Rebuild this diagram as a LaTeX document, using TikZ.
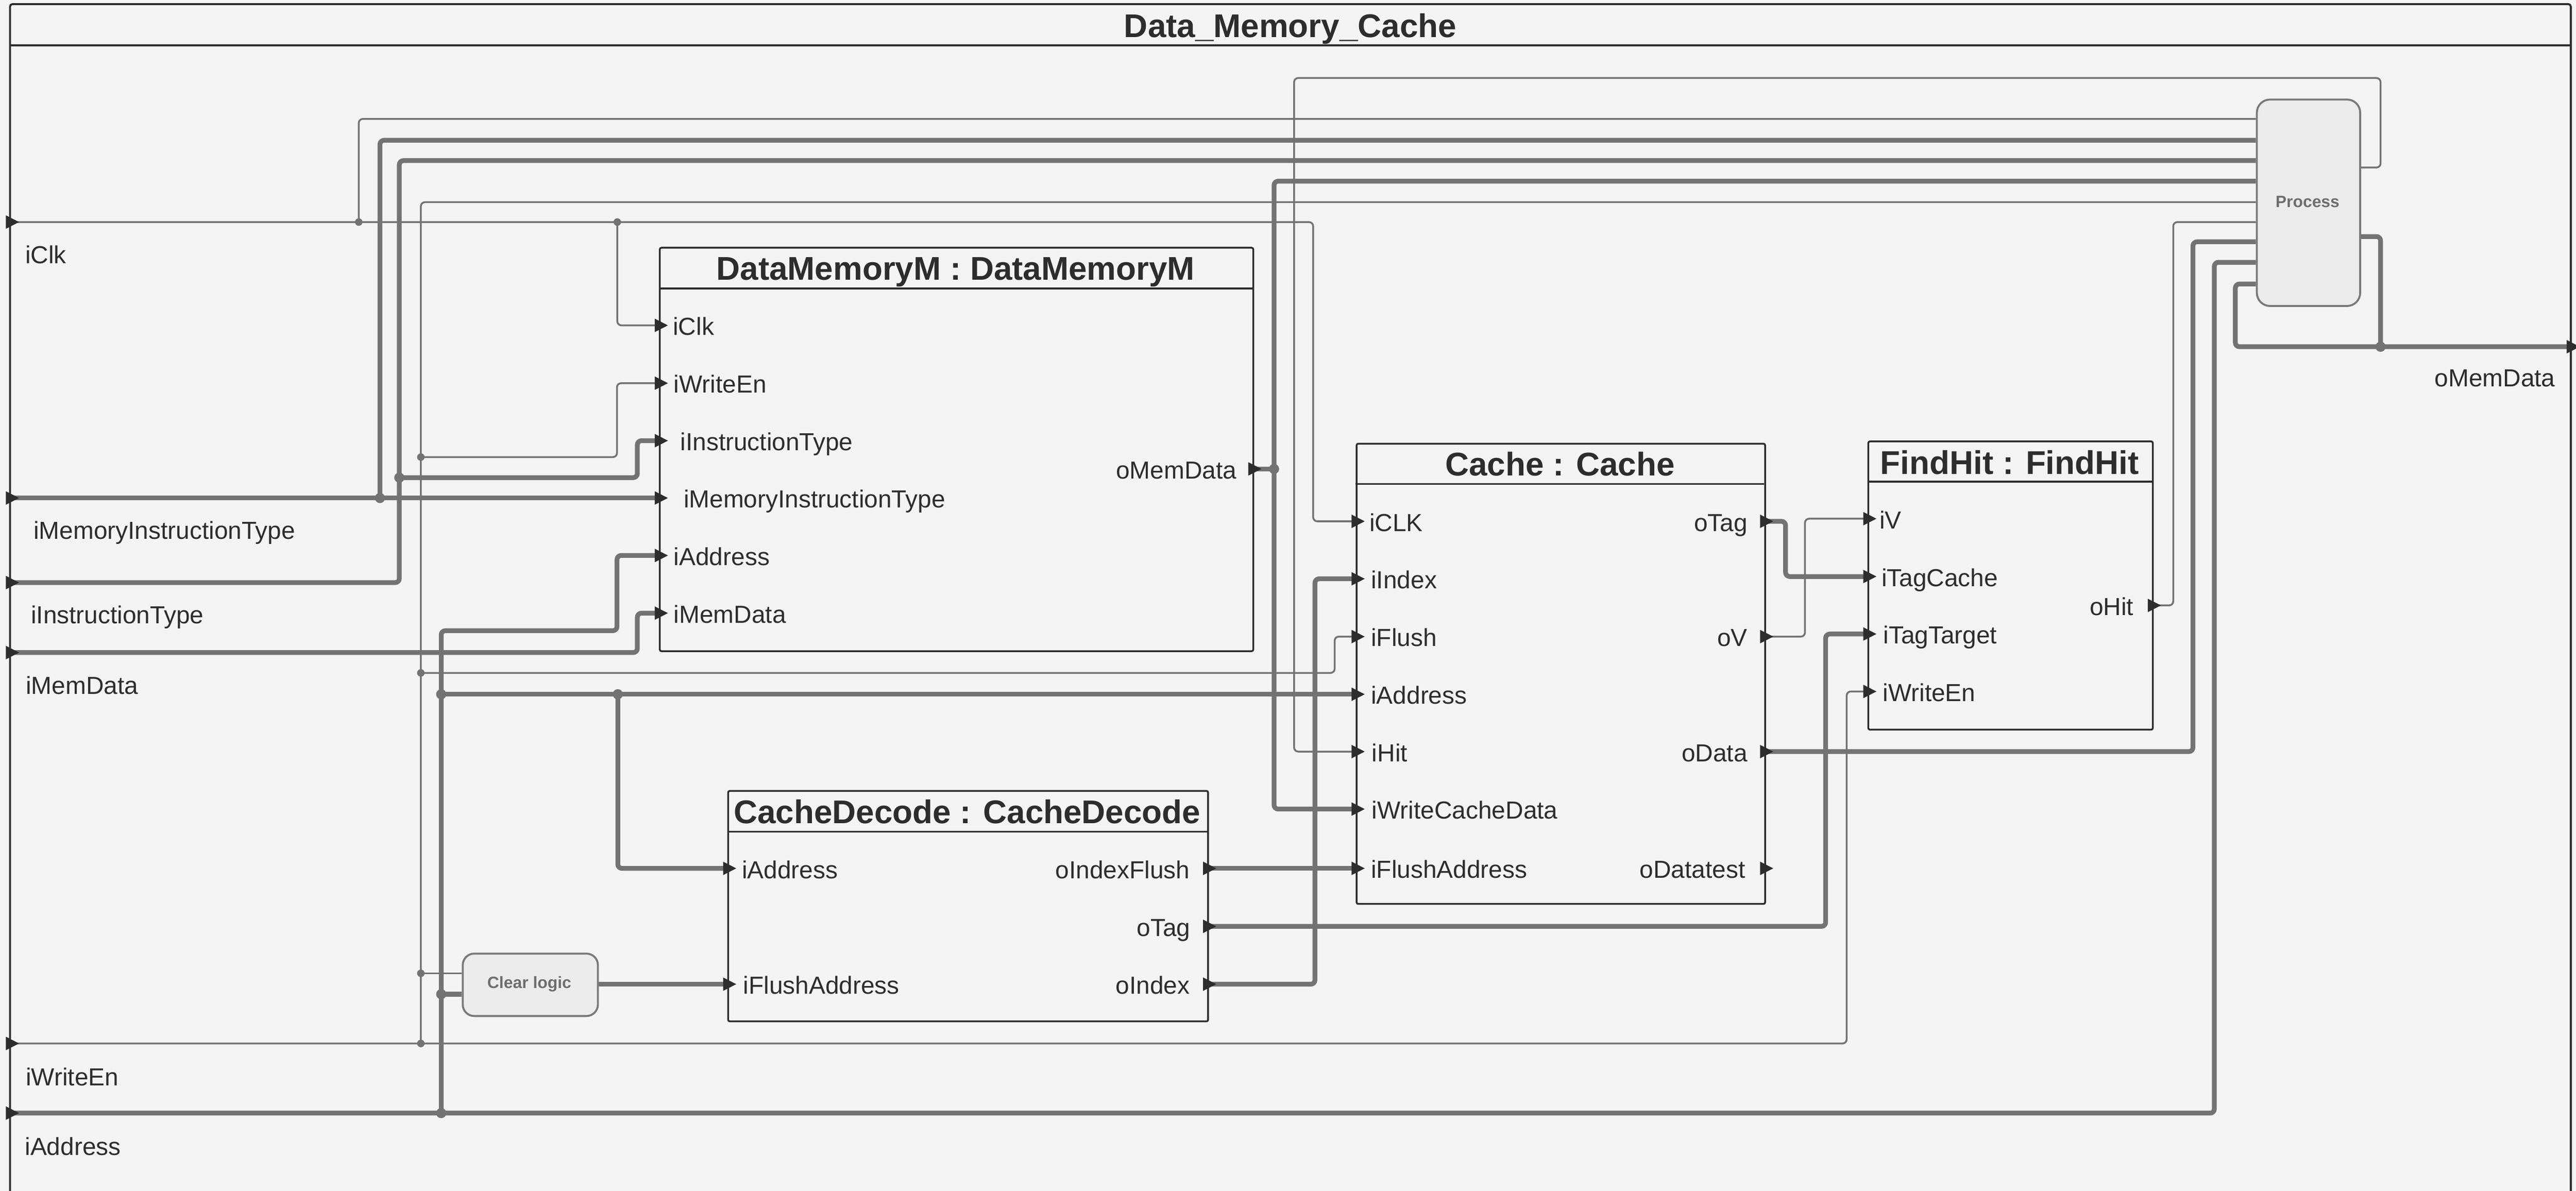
\documentclass[tikz,border=0pt]{standalone}
\usepackage{fontspec}
\setmainfont{Liberation Sans}
\definecolor{bgc}{HTML}{F4F4F4}
\definecolor{darkc}{HTML}{2D2D2D}
\definecolor{wirec}{HTML}{737373}
\definecolor{procfill}{HTML}{ECECEC}
\definecolor{procline}{HTML}{7A7A7A}
\definecolor{proctext}{HTML}{6E6E6E}
\tikzset{
  thinw/.style={draw=wirec, line width=1.1pt, rounded corners=2.5pt},
  thickw/.style={draw=wirec, line width=2.9pt, rounded corners=2.5pt},
  block/.style={rectangle, draw=darkc, line width=1.1pt, fill=bgc, rounded corners=1pt, inner sep=0pt, anchor=north west},
  procbox/.style={rectangle, draw=procline, line width=1.2pt, fill=procfill, inner sep=0pt, anchor=north west},
  proclabel/.style={font=\fontsize{10}{12}\selectfont\bfseries, text=proctext, inner sep=0pt},
  btitle/.style={font=\fontsize{20}{24}\selectfont\bfseries, text=darkc, anchor=base, inner sep=0pt},
  plabel/.style={font=\fontsize{15}{18}\selectfont, text=darkc, inner sep=0pt},
  inlabel/.style={plabel, anchor=base west},
  outlabel/.style={plabel, anchor=base east},
  parrow/.pic={\fill[darkc] (-2.5,-4.1) -- (5.5,0) -- (-2.5,4.1) -- cycle;},
  jthick/.style={fill=wirec},
}
\begin{document}
\begin{tikzpicture}[x=1pt,y=-1pt]
\useasboundingbox (0,0) rectangle (1568.2,725.1);
\begin{scope}
\clip (0,0) rectangle (1568.2,725.1);
\fill[bgc] (0,0) rectangle (1568.2,725.1);

% ---------- outer frame ----------
\draw[darkc, line width=1.2pt, rounded corners=1.5pt] (6.1,740) -- (6.1,2.5) -- (1565,2.5) -- (1565,740);
\draw[darkc, line width=1.2pt] (6.1,27.7) -- (1565,27.7);
\node[btitle] (maintitle) at (785.5,22.8) {Data\_Memory\_Cache};

% ---------- coordinates: outer ports ----------
\coordinate (in-iClk) at (6.1,135.2);
\coordinate (in-iMIT) at (6.1,303.2);
\coordinate (in-iIT)  at (6.1,354.7);
\coordinate (in-iMD)  at (6.1,397.3);
\coordinate (in-iWE)  at (6.1,635.3);
\coordinate (in-iA)   at (6.1,677.7);
\coordinate (out-oMD) at (1565,211.1);

% DataMemoryM ports
\coordinate (dm-iClk) at (401.1,198.1);
\coordinate (dm-iWE)  at (401.1,233.3);
\coordinate (dm-iIT)  at (401.1,268.3);
\coordinate (dm-iMIT) at (401.1,303.2);
\coordinate (dm-iA)   at (401.1,338.2);
\coordinate (dm-iMD)  at (401.1,373.3);
\coordinate (dm-oMD)  at (762.4,285.5);

% Cache ports
\coordinate (c-iCLK) at (825.3,317.4);
\coordinate (c-iIdx) at (825.3,352.4);
\coordinate (c-iFl)  at (825.3,387.6);
\coordinate (c-iA)   at (825.3,422.7);
\coordinate (c-iHit) at (825.3,457.6);
\coordinate (c-iWCD) at (825.3,492.6);
\coordinate (c-iFA)  at (825.3,528.7);
\coordinate (c-oTag) at (1074,317.4);
\coordinate (c-oV)   at (1074,387.6);
\coordinate (c-oData) at (1074,457.6);
\coordinate (c-oDT)  at (1074,528.7);

% FindHit ports
\coordinate (fh-iV)  at (1136.8,315.8);
\coordinate (fh-iTC) at (1136.8,351);
\coordinate (fh-iTT) at (1136.8,386);
\coordinate (fh-iWE) at (1136.8,421);
\coordinate (fh-oHit) at (1310,368.6);

% CacheDecode ports
\coordinate (cd-iA)   at (442.7,528.7);
\coordinate (cd-iFA)  at (442.7,599.2);
\coordinate (cd-oIF)  at (734.9,528.7);
\coordinate (cd-oTag) at (734.9,564);
\coordinate (cd-oIdx) at (734.9,599.2);

% Process ports
\coordinate (p-l1) at (1373.3,72.4);
\coordinate (p-l2) at (1373.3,85.4);
\coordinate (p-l3) at (1373.3,97.8);
\coordinate (p-l4) at (1373.3,110.3);
\coordinate (p-l5) at (1373.3,123.1);
\coordinate (p-l6) at (1373.3,135.2);
\coordinate (p-l7) at (1373.3,147.2);
\coordinate (p-l8) at (1373.3,159.7);
\coordinate (p-l9) at (1373.3,172.9);
\coordinate (p-r1) at (1436.2,102);
\coordinate (p-r2) at (1436.2,144);

% Clear logic ports
\coordinate (clr-in1) at (281.1,592.6);
\coordinate (clr-in2) at (281.1,605.3);
\coordinate (clr-out) at (363.4,599.2);

% junctions
\coordinate (j-clk1) at (218.4,135.2);
\coordinate (j-clk2) at (375.8,135.2);
\coordinate (j-mit)  at (231.3,303.2);
\coordinate (j-it)   at (243.1,290.8);
\coordinate (j-we0)  at (256.2,635.3);
\coordinate (j-we1)  at (256.2,278.3);
\coordinate (j-we2)  at (256.2,409.7);
\coordinate (j-we3)  at (256.2,592.6);
\coordinate (j-a0)   at (268.6,677.7);
\coordinate (j-a1)   at (268.6,422.7);
\coordinate (j-a2)   at (376.1,422.7);
\coordinate (j-a3)   at (268.6,605.3);
\coordinate (j-omd)  at (775.6,285.5);
\coordinate (j-out)  at (1449.2,211.1);

% ---------- thin wires ----------
\draw[thinw] (in-iClk) -| (799.4,317.4) -- (c-iCLK);
\draw[thinw] (j-clk1) |- (p-l1);
\draw[thinw] (j-clk2) |- (dm-iClk);
\draw[thinw] (in-iWE) -| (1124.2,421) -- (fh-iWE);
\draw[thinw] (j-we0) |- (p-l5);
\draw[thinw] (j-we1) -| (375.6,233.3) -- (dm-iWE);
\draw[thinw] (j-we2) -| (812.5,387.6) -- (c-iFl);
\draw[thinw] (j-we3) -- (clr-in1);
\draw[thinw] (p-r1) -| (1449.2,47.5) -| (787.8,457.6) -- (c-iHit);
\draw[thinw] (c-oV) -| (1098.8,315.8) -- (fh-iV);
\draw[thinw] (fh-oHit) -| (1323,135.2) -- (p-l6);

% ---------- thick wires ----------
\draw[thickw] (in-iMIT) -- (dm-iMIT);
\draw[thickw] (j-mit) |- (p-l2);
\draw[thickw] (in-iIT) -| (243.1,97.8) -- (p-l3);
\draw[thickw] (j-it) -| (388,268.3) -- (dm-iIT);
\draw[thickw] (in-iMD) -| (388,373.3) -- (dm-iMD);
\draw[thickw] (in-iA) -| (1348,159.7) -- (p-l8);
\draw[thickw] (j-a0) |- (375.6,384) |- (dm-iA);
\draw[thickw] (j-a1) -- (c-iA);
\draw[thickw] (j-a2) |- (cd-iA);
\draw[thickw] (j-a3) -- (clr-in2);
\draw[thickw] (clr-out) -- (cd-iFA);
\draw[thickw] (dm-oMD) -- (j-omd);
\draw[thickw] (p-l4) -| (775.6,492.6) -- (c-iWCD);
\draw[thickw] (cd-oIdx) -| (800.5,352.4) -- (c-iIdx);
\draw[thickw] (cd-oIF) -- (c-iFA);
\draw[thickw] (cd-oTag) -| (1111.4,386) -- (fh-iTT);
\draw[thickw] (c-oTag) -| (1087,351) -- (fh-iTC);
\draw[thickw] (c-oData) -| (1335,147.2) -- (p-l7);
\draw[thickw] (p-l9) -| (1360.8,211.1) -- (out-oMD);
\draw[thickw] (p-r2) -| (j-out);

% ---------- junction dots ----------
\foreach \j in {j-clk1,j-clk2,j-we0,j-we1,j-we2,j-we3}
  \fill[wirec] (\j) circle (2.3pt);
\foreach \j in {j-mit,j-it,j-a0,j-a1,j-a2,j-a3,j-omd,j-out}
  \fill[wirec] (\j) circle (3.1pt);

% ---------- blocks ----------
\node[block, minimum width=361.3pt, minimum height=245.6pt] (dm) at (401.1,150.3) {};
\draw[darkc, line width=1.1pt] (401.1,175.7) -- (762.4,175.7);
\node[btitle] (dm-title) at (581.75,170.4) {DataMemoryM : DataMemoryM};

\node[block, minimum width=248.7pt, minimum height=280.2pt] (cache) at (825.3,269.6) {};
\draw[darkc, line width=1.1pt] (825.3,294.7) -- (1074,294.7);
\node[btitle] (cache-title) at (949.65,289.8) {Cache : Cache};

\node[block, minimum width=173.2pt, minimum height=175.5pt] (fh) at (1136.8,268.2) {};
\draw[darkc, line width=1.1pt] (1136.8,293.3) -- (1310,293.3);
\node[btitle] (fh-title) at (1223.4,288.8) {FindHit : FindHit};

\node[block, minimum width=292.2pt, minimum height=140.3pt] (cd) at (442.7,481) {};
\draw[darkc, line width=1.1pt] (442.7,506.4) -- (734.9,506.4);
\node[btitle] (cd-title) at (588.8,501.5) {CacheDecode : CacheDecode};

\node[procbox, rounded corners=8pt, minimum width=62.9pt, minimum height=125.7pt] (proc) at (1373.3,60) {};
\node[proclabel] (proc-l) at (1404.75,122.9) {Process};

\node[procbox, rounded corners=7pt, minimum width=82.3pt, minimum height=38pt] (clr) at (281.1,580) {};
\node[proclabel] (clr-l) at (322.25,599.2) {Clear logic};

% ---------- arrows ----------
\foreach \p in {in-iClk,in-iMIT,in-iIT,in-iMD,in-iWE,in-iA,out-oMD,
  dm-iClk,dm-iWE,dm-iIT,dm-iMIT,dm-iA,dm-iMD,dm-oMD,
  c-iCLK,c-iIdx,c-iFl,c-iA,c-iHit,c-iWCD,c-iFA,c-oTag,c-oV,c-oData,c-oDT,
  fh-iV,fh-iTC,fh-iTT,fh-iWE,fh-oHit,
  cd-iA,cd-iFA,cd-oIF,cd-oTag,cd-oIdx}
  \pic at (\p) {parrow};

% ---------- outer labels ----------
\node[inlabel] (l-iClk) at (15.2,160.5) {iClk};
\node[inlabel] (l-iMIT) at (20.3,328.3) {iMemoryInstructionType};
\node[inlabel] (l-iIT)  at (18.7,379.7) {iInstructionType};
\node[inlabel] (l-iMD)  at (15.6,422.5) {iMemData};
\node[inlabel] (l-iWE)  at (15.6,661) {iWriteEn};
\node[inlabel] (l-iA)   at (15,703.3) {iAddress};
\node[outlabel] (l-oMD) at (1555.7,235.5) {oMemData};

% ---------- DataMemoryM labels ----------
\node[inlabel] (dl-iClk) at (409.5,204.1) {iClk};
\node[inlabel] (dl-iWE)  at (410,239.3) {iWriteEn};
\node[inlabel] (dl-iIT)  at (414,274.3) {iInstructionType};
\node[inlabel] (dl-iMIT) at (416,309.2) {iMemoryInstructionType};
\node[inlabel] (dl-iA)   at (410,344.2) {iAddress};
\node[inlabel] (dl-iMD)  at (410,379.3) {iMemData};
\node[outlabel] (dl-oMD) at (753,291.5) {oMemData};

% ---------- Cache labels ----------
\node[inlabel] (cl-iCLK) at (833.5,323.4) {iCLK};
\node[inlabel] (cl-iIdx) at (834.5,358.4) {iIndex};
\node[inlabel] (cl-iFl)  at (834.5,393.6) {iFlush};
\node[inlabel] (cl-iA)   at (834.5,428.7) {iAddress};
\node[inlabel] (cl-iHit) at (835,463.6) {iHit};
\node[inlabel] (cl-iWCD) at (835,498.6) {iWriteCacheData};
\node[inlabel] (cl-iFA)  at (834.5,534.5) {iFlushAddress};
\node[outlabel] (cl-oTag) at (1064,323.4) {oTag};
\node[outlabel] (cl-oV)   at (1064,393.6) {oV};
\node[outlabel] (cl-oData) at (1064,463.6) {oData};
\node[outlabel] (cl-oDT)  at (1062.6,534.5) {oDatatest};

% ---------- FindHit labels ----------
\node[inlabel] (fl-iV)  at (1144,321.8) {iV};
\node[inlabel] (fl-iTC) at (1145.2,357) {iTagCache};
\node[inlabel] (fl-iTT) at (1146.3,392) {iTagTarget};
\node[inlabel] (fl-iWE) at (1146,427) {iWriteEn};
\node[outlabel] (fl-oHit) at (1299,374.6) {oHit};

% ---------- CacheDecode labels ----------
\node[inlabel] (xl-iA)  at (451.5,534.8) {iAddress};
\node[inlabel] (xl-iFA) at (452.3,605.2) {iFlushAddress};
\node[outlabel] (xl-oIF) at (724.5,534.8) {oIndexFlush};
\node[outlabel] (xl-oTag) at (724.8,570) {oTag};
\node[outlabel] (xl-oIdx) at (724.5,605.2) {oIndex};
\end{scope}
\end{tikzpicture}
\end{document}
